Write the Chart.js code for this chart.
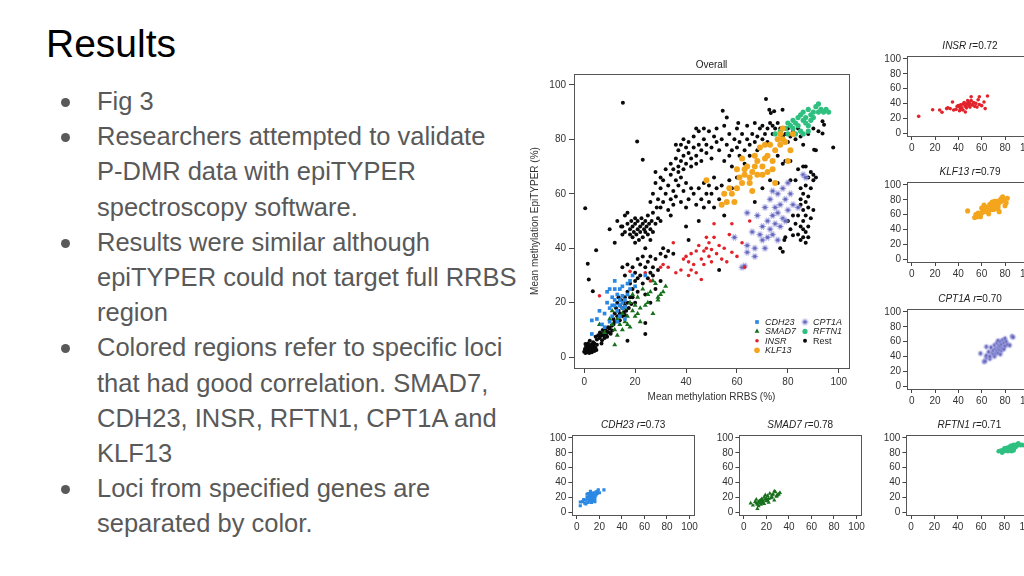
<!DOCTYPE html>
<html>
<head>
<meta charset="utf-8">
<script src="https://cdn.jsdelivr.net/npm/chart.js@4.4.0/dist/chart.umd.min.js"></script>
<style>
  html, body { margin: 0; padding: 0; width: 1024px; height: 576px; overflow: hidden; background: #fff; font-family: "Liberation Sans", Arial, sans-serif; }
  #slideTitle { position: absolute; left: 46px; top: 24.3px; font-size: 39px; line-height: 39px; color: #000; }
  #bullets { position: absolute; left: 0; top: 84px; font-size: 25.5px; line-height: 35.2px; color: #595959; }
  .ln { position: relative; padding-left: 97px; white-space: nowrap; height: 35.2px; }
  .ln.b::before { content: ""; position: absolute; left: 60.5px; top: 13.9px; width: 9px; height: 9px; border-radius: 50%; background: #595959; }
  canvas { position: absolute; }
</style>
</head>
<body>
<div id="slideTitle">Results</div>
<div id="bullets">
  <div class="ln b">Fig 3</div>
  <div class="ln b">Researchers attempted to validate</div>
  <div class="ln">P-DMR data with epiTYPER</div>
  <div class="ln">spectroscopy software.</div>
  <div class="ln b">Results were similar although</div>
  <div class="ln">epiTYPER could not target full RRBS</div>
  <div class="ln">region</div>
  <div class="ln b">Colored regions refer to specific loci</div>
  <div class="ln">that had good correlation. SMAD7,</div>
  <div class="ln">CDH23, INSR, RFTN1, CPT1A and</div>
  <div class="ln">KLF13</div>
  <div class="ln b">Loci from specified genes are</div>
  <div class="ln">separated by color.</div>
</div>

<canvas id="overall" width="340" height="360" style="left:520px;top:50px"></canvas>
<canvas id="pINSR" width="170" height="122" style="left:870px;top:36px"></canvas>
<canvas id="pKLF13" width="170" height="122" style="left:870px;top:162px"></canvas>
<canvas id="pCPT1A" width="170" height="122" style="left:870px;top:289px"></canvas>
<canvas id="pCDH23" width="165" height="122" style="left:535px;top:415px"></canvas>
<canvas id="pSMAD7" width="165" height="122" style="left:702px;top:415px"></canvas>
<canvas id="pRFTN1" width="170" height="122" style="left:869px;top:415px"></canvas>

<script>
(function () {
    // Axis ticks shared by all panels
    const tickValues = [0, 20, 40, 60, 80, 100];
    const seriesNames = ['CDH23', 'SMAD7', 'INSR', 'KLF13', 'CPT1A', 'RFTN1', 'Rest'];
    const panelR = { CDH23: '0.73', SMAD7: '0.78', INSR: '0.72', KLF13: '0.79', CPT1A: '0.70', RFTN1: '0.71' };

    // [RRBS %, EpiTYPER %]
    const cdh23 = [[3,8.5],[3,13.5],[5,14],[6,17],[7,12],[8,16],[8,11],[9,20],[9,24],[10,18],[10,25],[10,13],[11,22],[11,15],[11,19],[12,19],[12,25],[12,21],[12,28],[13,23],[13,17],[13,13],[14,21],[14,25],[14,15],[14,19],[15,20],[15,22.5],[15,18],[15,26],[16,21],[16,14],[16,18.5],[17,23],[17,27],[18,28],[18,25],[19,30],[20,26],[24,30]];
    const smad7 = [[6,12],[8,9],[10,14],[11,17],[11,12],[12,4.5],[12,10],[13,14],[13,8],[14,12],[14,15],[15,16],[15,10],[16,18],[16,13],[17,15],[17,12],[18,11],[18,20],[19,17],[19,23],[20,15],[20,19],[21,22],[21,16],[22,13],[22,18],[23,25],[24,19],[25,23],[25,20],[26,24],[27,28],[27,16],[28,27],[29,21],[29,22],[30,23],[31,24],[32,26]];
    const insr = [[6,22.5],[18,31.5],[24,31],[26,28],[30,33],[31,34],[33,33],[35,42],[36,31],[38,32],[39,36],[40,37],[41,35],[41,30],[42,38],[42,32],[43,34],[44,39],[44,31],[45,41],[46,28.5],[46,36],[47,39],[47,34],[48,40],[48,44],[49,37],[49,42],[50,35],[50,39.5],[51,44],[51,49],[52,38],[53,41],[54,36],[55,40],[56,35],[57,45],[58,49],[58,38.5],[60,37],[62,42],[63,33],[65,50]];
    const klf13 = [[48,65],[54,56],[55,60],[56,57],[57,62],[58,60],[59,57],[60,62],[60,69],[61,66],[62,64],[62,73],[63,67],[63,69],[64,70],[65,66],[65,64],[66,68],[66,61],[67,70],[67,74],[68,72],[68,67],[69,77],[70,70],[70,67],[71,73],[71,78],[72,74],[72,68],[73,78],[74,72],[74,69],[75,76],[75,64],[76,80],[77,78],[77,82],[78,80],[78,84],[79,79],[80,72],[81,76],[82,82]];
    const cpt1a = [[59,44],[62,33],[63,33.5],[64,38.5],[64,41],[64,53],[66,46],[67,37],[67,40],[68,52],[69,45],[70,43],[70,48],[71,55],[71,40],[72,44],[72,50],[73,47],[73,58],[74,52],[74,45],[74,61],[75,55],[75,49],[76,53],[76,60],[76,43],[77,56],[77,48],[78,51],[78,62],[79,58],[79,50],[80,54],[80,64],[81,60],[82,56],[84,55],[86,67],[87,66]];
    const rftn1 = [[75,82],[77,83],[78,80],[79,84],[80,82],[80,86],[81,85],[82,84],[82,87],[83,86],[83,82],[84,88],[84,85],[85,83],[85,89],[86,87],[86,90],[86,82],[87,86],[87,88],[88,91],[88,85],[88,83],[89,89],[89,87],[90,90],[90,88],[91,92],[92,90],[92,93],[93,91],[94,90],[95,91],[96,90]];
    const rest = [
        [0,2],[0.3,3],[0.5,1.5],[0.8,4],[1,2.5],[1,3.5],[1.2,1.8],[1.5,3],[1.8,2.2],[2,4],[2,1.5],[2.3,3.2],[2.5,2.5],[2.8,4.5],[3,1.8],[3,3.6],[3.3,2.8],[3.6,4.2],[4,2.2],[4,5],[4.4,3.4],[4.8,2.6],[5,4.5],[1.5,5],[0.5,4.8],[3.5,5.5],[2.2,6],
        [5,6.5],[5.5,8],[6,7],[6.2,9],[6.5,7.8],[7,8.5],[7,6.2],[7.3,10],[7.6,8],[8,9],[8,7],[8.3,10.5],[8.6,8.5],[9,9.5],[9,7.5],[9.4,11],[9.8,9],[10,10.5],[10.4,8.6],[10.8,11.5],[11,9.8],[6.8,5],[4.5,7.5],[11.5,12],
        [11.5,14],[12,16],[12.5,18],[13,15],[13,20],[13.5,17],[14,16],[14,19],[14.5,21],[15,15],[15,18],[15.5,20],[15.5,16.5],[16,19],[16,22],[16.5,17],[17,20],[17,24],[17.5,18],[18,22],[12,13],[14,13.5],[16,15.5],[18.5,19.5],[13.5,22],
        [18,27],[19,25],[19,33],[20,28],[20,31],[21,24],[21,29],[22,30],[22,34],[23,27],[23,37],[24,33],[24,40],[25,29],[25,35],[26,31],[26,37],[27,30],[27,33],[28,36],[29,32],[30,38],[31,40],[32,37],[16,30],[15,33],[17,34],[20,20],[21,36],[19,22],[24,23],[28,25],[26,20],[17,6],[24,8.5],[24,12.5],[30,28],[33,39],[35,38],
        [0.4,54.7],[1.4,34.3],[1.8,28.5],[3.4,24.2],[4.7,39.3],[15.2,93.4],[20.8,79.2],[23,72.5],[10,47],[14.5,48],[15,45],[12,42],
        [15,48],[16,46],[17,49],[17,53],[18,45],[18,47],[18.5,50],[19,44],[19,48],[19.5,46],[20,49],[20,51],[20.5,45],[21,47],[21,50],[21.5,43],[22,48],[22,46],[22.5,51],[23,49],[23,44],[23.5,47],[24,50],[24,46],[24.5,48],[25,45],[25,52],[25.5,49],[26,47],[26.5,50],[27,46],[27,53],[28,49],[28.5,55],[29,51],[30,50],[16,52],[20,42],[26,43],[13,50],
        [26,57],[27,60],[28,64],[29,58],[30,55],[30,62],[31,57],[31,65],[32,60],[33,54],[33,63],[34,58],[34,67],[35,61],[35,56],[36,65],[36,59],[37,63],[37,68],[38,57],[38,66],[39,61],[40,64],[40,55],[41,58],[42,62],[28,68],[30,66],[32,69],[34,52],
        [34,71],[35,69],[36,73],[37,70],[37,76],[38,72],[38,78],[39,74],[39,69],[40,77],[40,71],[41,75],[41,79],[42,73],[42,70],[43,77],[43,81],[44,74],[44,71],[45,78],[45,83],[46,76],[46,72],[47,80],[47,84],[48,75],[48,78],[49,83],[50,77],[50,73],[51,81],[52,79],[52,84],[36,78],[39,80],[44,84],
        [43,60],[44,56],[45,62],[46,58],[47,55],[47,64],[48,60],[49,57],[49,63],[50,60],[51,55],[51,66],[52,62],[53,58],[54,63],[55,60],[55,52],[57,65],[58,62],[60,66],[62,64],[40,48],[45,50],[53,32],[41,43],
        [53,76],[54,80],[55,72],[55,85],[56,78],[57,74],[57,82],[58,76],[58,70],[59,80],[60,77],[60,84],[61,74],[61,79],[62,82],[63,76],[63,71],[64,80],[64,85],[65,78],[65,74],[66,82],[67,79],[67,86],[68,81],[68,76],[69,84],[70,80],[70,85],[71,82],[72,79],[54.4,90.5],[60.5,86],[56,88],
        [71.4,94.8],[72.7,90.9],[73.3,89.7],[74.6,90.3],[77.9,90.9],[72,84],[73,86],[74,82],[74,85],[75,84],[76,80],[76,86],[77,84],[78,81],[79,82],[80,84],[80,79],[81,81],[82,83],[83,80],[84,84],[85,81],[78,71],[79,72],[81,72],[76,74],[86,78],[93.6,86.6],[94.2,85.4],[93.6,82.1],[90.3,76.2],[91,76],[97.8,77],[88,82],[90,84],[92,83],
        [84,45],[84,52],[85,43],[85,48],[85,56],[85,62],[86,44],[86,50],[86,54],[86,60],[87,46],[87,52],[87,57],[87,63],[87,70],[88,48],[88,55],[88,59],[88,66],[89,51],[89,62],[89,68],[90,54],[90,65],[90,67],[91,66],[86,47],[88,44],[87,42],[85,58],[83,49],[82,52],[81,65],[83,65],[82,44.8],[80,50],[79,44],[78.6,43],[78,38.7],[77,40],[81,47],[84,69],[86,70],
        [67,57],[70,62],[73,65],[76,64]
    ];

    const seriesData = { CDH23: cdh23, SMAD7: smad7, INSR: insr, KLF13: klf13, CPT1A: cpt1a, RFTN1: rftn1, Rest: rest };

    const FONT = '"Liberation Sans", Arial, Helvetica, sans-serif';

    // Lavender starburst marker used for CPT1A
    function starburst(r, spike, core) {
        const c = document.createElement('canvas');
        const s = Math.ceil(r * 2 + 2);
        c.width = c.height = s;
        const g = c.getContext('2d');
        g.translate(s / 2, s / 2);
        g.strokeStyle = spike;
        g.lineWidth = 1;
        for (let i = 0; i < 10; i++) {
            const a = i * Math.PI / 5;
            g.beginPath();
            g.moveTo(0, 0);
            g.lineTo(Math.cos(a) * r, Math.sin(a) * r);
            g.stroke();
        }
        g.fillStyle = core;
        g.beginPath();
        g.arc(0, 0, r * 0.5, 0, Math.PI * 2);
        g.fill();
        return c;
    }

    // Marker style per series, for the big plot and the small ones
    function markerStyle(name, small) {
        const k = small ? 0.85 : 1;
        switch (name) {
            case 'CDH23': return { color: '#2b88e3', style: 'rect', r: 2.6 * k };
            case 'SMAD7': return { color: '#17701c', style: 'triangle', r: 2.9 * k };
            case 'INSR': return { color: '#e2232b', style: 'circle', r: 1.8 };
            case 'KLF13': return { color: '#f3a51d', style: 'circle', r: 3.0 * k };
            case 'CPT1A': return { color: '#8587cf', style: starburst(small ? 2.8 : 3.4, '#9a9bdb', '#6466bb'), r: 3.4 * k };
            case 'RFTN1': return { color: '#2fc080', style: 'circle', r: 2.6 * k };
            default: return { color: '#0a0a0a', style: 'circle', r: 2 };
        }
    }

    function makeDataset(name, small) {
        const m = markerStyle(name, small);
        return {
            label: name,
            data: seriesData[name].map(p => ({ x: p[0], y: p[1] })),
            pointStyle: m.style,
            pointRadius: m.r,
            backgroundColor: m.color,
            borderColor: m.color,
            borderWidth: 0,
            pointBorderWidth: 0
        };
    }

    // Frame box, panel title and in-plot legend
    const framePlugin = {
        id: 'frame',
        beforeDatasetsDraw(chart) {
            const { ctx, chartArea: a } = chart;
            ctx.save();
            ctx.strokeStyle = '#555';
            ctx.lineWidth = 1;
            ctx.strokeRect(Math.round(a.left) + 0.5, Math.round(a.top) + 0.5,
                Math.round(a.right - a.left), Math.round(a.bottom - a.top));
            ctx.restore();
        },
        afterDraw(chart, args, opts) {
            const { ctx, chartArea: a } = chart;
            ctx.save();
            ctx.fillStyle = '#222';
            ctx.textBaseline = 'middle';
            // title made of plain and italic parts
            const size = opts.titleSize || 10;
            const parts = opts.title || [];
            let total = 0;
            parts.forEach(p => {
                ctx.font = (p[1] ? 'italic ' : '') + size + 'px ' + FONT;
                total += ctx.measureText(p[0]).width;
            });
            let x = (a.left + a.right) / 2 - total / 2;
            ctx.textAlign = 'left';
            parts.forEach(p => {
                ctx.font = (p[1] ? 'italic ' : '') + size + 'px ' + FONT;
                ctx.fillText(p[0], x, a.top - opts.titleGap);
                x += ctx.measureText(p[0]).width;
            });

            if (opts.legend) {
                chart.data.datasets.forEach((ds, i) => {
                    const col = i < 4 ? 0 : 1;
                    const row = i < 4 ? i : i - 4;
                    const mx = a.right - (col === 0 ? 92 : 44);
                    const my = a.bottom - 46 + row * 9.4;
                    ctx.fillStyle = ds.backgroundColor;
                    ctx.strokeStyle = ds.borderColor;
                    Chart.helpers.drawPoint(ctx, {
                        pointStyle: ds.pointStyle,
                        radius: Math.min(ds.pointRadius, 2.8),
                        rotation: 0,
                        borderWidth: 0
                    }, mx, my);
                    ctx.fillStyle = '#222';
                    ctx.font = (ds.label === 'Rest' ? '' : 'italic ') + '9px ' + FONT;
                    ctx.fillText(ds.label, mx + 8, my + 0.5);
                });
            }
            ctx.restore();
        }
    };

    function axisOptions(dir, o) {
        const axis = {
            type: 'linear',
            min: -4,
            max: 104,
            afterBuildTicks: ax => { ax.ticks = tickValues.map(v => ({ value: v })); },
            afterFit: ax => {
                if (dir === 'x') ax.height = o.xHeight;
                else ax.width = o.yWidth;
            },
            grid: { drawOnChartArea: false, drawTicks: true, tickLength: o.tickLen, color: '#444', lineWidth: 1 },
            border: { display: false },
            ticks: {
                font: { family: FONT, size: o.tickSize },
                color: '#333',
                padding: o.tickPad,
                maxRotation: 0,
                autoSkip: false
            }
        };
        if (o.axisTitles) {
            axis.title = dir === 'x'
                ? { display: true, text: 'Mean methylation RRBS (%)', color: '#333', font: { family: FONT, size: 10 }, padding: { top: 0, bottom: 7 } }
                : { display: true, text: 'Mean methylation EpiTYPER (%)', color: '#333', font: { family: FONT, size: 10 }, padding: { top: 9, bottom: 0 } };
        }
        return axis;
    }

    function buildPanel(id, names, o) {
        return new Chart(document.getElementById(id), {
            type: 'scatter',
            data: { datasets: names.map(n => makeDataset(n, o.small)) },
            options: {
                responsive: false,
                animation: false,
                events: [],
                layout: { padding: { top: o.padTop, right: o.padRight, left: 0, bottom: 0 } },
                plugins: {
                    legend: { display: false },
                    tooltip: { enabled: false },
                    frame: { title: o.title, titleGap: o.titleGap, titleSize: o.titleSize, legend: o.legend }
                },
                scales: {
                    x: axisOptions('x', o),
                    y: axisOptions('y', o)
                }
            },
            plugins: [framePlugin]
        });
    }

    // Main "Overall" plot
    buildPanel('overall', seriesNames, {
        small: false, padTop: 24, padRight: 11, yWidth: 54, xHeight: 42,
        tickLen: 5, tickPad: 3, tickSize: 10, axisTitles: true,
        title: [['Overall', false]], titleGap: 9, titleSize: 10, legend: true
    });

    // Per-gene panels
    function genePanel(id, name, yWidth, areaWidth, canvasWidth) {
        buildPanel(id, [name], {
            small: true, padTop: 20, padRight: canvasWidth - yWidth - areaWidth, yWidth: yWidth, xHeight: 22,
            tickLen: 4, tickPad: 2, tickSize: 10, axisTitles: false,
            title: [[name, true], [' ', false], ['r', true], ['=' + panelR[name], false]],
            titleGap: 9.5, titleSize: 10, legend: false
        });
    }

    genePanel('pINSR', 'INSR', 37, 126, 170);
    genePanel('pKLF13', 'KLF13', 37, 126, 170);
    genePanel('pCPT1A', 'CPT1A', 37, 126, 170);
    genePanel('pCDH23', 'CDH23', 37.4, 123, 165);
    genePanel('pSMAD7', 'SMAD7', 37.4, 123, 165);
    genePanel('pRFTN1', 'RFTN1', 37.4, 126, 170);
})();
</script>
</body>
</html>
